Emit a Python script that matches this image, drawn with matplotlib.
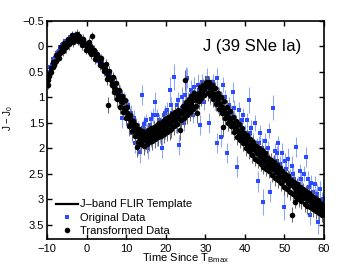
import matplotlib
matplotlib.use("Agg")
import matplotlib.pyplot as plt
from matplotlib.ticker import FixedLocator, FixedFormatter
from matplotlib.lines import Line2D

plt.rcParams['font.family'] = ['Liberation Sans', 'DejaVu Sans']
plt.rcParams['mathtext.fontset'] = 'custom'
plt.rcParams['mathtext.rm'] = 'Liberation Sans'
plt.rcParams['mathtext.it'] = 'Liberation Sans:italic'

# ---- template ----
tmpl_t = [-10, -9, -8, -7, -6, -5, -4, -3, -2, -1, 0, 1, 2, 3, 4, 5, 6, 7, 8, 9, 10,
          11, 12, 13, 14, 15, 16, 17, 18, 19, 20, 21, 22, 23, 24, 25, 26, 27, 28, 29,
          30, 31, 32, 33, 34, 35, 36, 37, 38, 39, 40, 41, 42, 43, 44, 45, 46, 47, 48,
          49, 50, 51, 52, 53, 54, 55, 56, 57, 58, 59, 60]
tmpl_j = [0.65, 0.48, 0.33, 0.18, 0.06, -0.05, -0.13, -0.17, -0.16, -0.10, -0.02, 0.06,
          0.15, 0.26, 0.38, 0.52, 0.66, 0.80, 0.95, 1.12, 1.28, 1.45, 1.60, 1.72, 1.78,
          1.78, 1.74, 1.70, 1.65, 1.60, 1.55, 1.49, 1.43, 1.37, 1.30, 1.23, 1.16, 1.08,
          1.00, 0.90, 0.83, 0.82, 0.90, 1.02, 1.14, 1.26, 1.38, 1.50, 1.62, 1.73, 1.84,
          1.92, 1.99, 2.07, 2.14, 2.22, 2.29, 2.37, 2.44, 2.52, 2.60, 2.66, 2.73, 2.80,
          2.86, 2.92, 2.98, 3.04, 3.09, 3.15, 3.20]

# ---- transformed data (black) ----
blk_t = [-9.8, -9.5, -9.0, -8.6, -8.2, -7.8, -7.3, -7.0, -6.6, -6.2, -5.8, -5.4, -5.0, -4.6,
         -4.3, -4.0, -3.6, -3.3, -3.0, -2.7, -2.4, -2.0, -1.7, -1.4, -1.0, -0.7, -0.4, 0.0,
         0.3, 0.7, 1.0, 1.4, 1.7, 2.0, 2.4, 2.8, 3.1, 3.5, 3.9, 4.2, 4.6, 5.0, 5.4, 5.5,
         5.8, 6.1, 6.5, 6.9, 7.2, 7.6, 8.0, 8.3, 8.7, 9.0, 9.4, 9.8, 10.1, 10.5, 10.9, 11.2,
         11.6, 12.0, 12.4, 12.7, 12.8, 13.1, 13.5, 13.9, 14.2, 14.6, 15.0, 15.3, 15.7, 16.0,
         16.4, 16.8, 17.1, 17.5, 17.9, 18.2, 18.6, 19.0, 19.3, 19.7, 20.1, 20.4, 20.8, 21.0,
         21.2, 21.5, 21.9, 22.3, 22.6, 23.0, 23.4, 23.6, 23.7, 24.1, 24.5, 24.8, 24.9, 25.2,
         25.6, 25.9, 26.3, 26.7, 27.0, 27.4, 27.8, 27.9, 28.1, 28.5, 28.9, 29.2, 29.6, 30.0,
         30.4, 30.7, 31.1, 31.5, 31.8, 32.2, 32.6, 33.0, 33.3, 33.7, 34.1, 34.5, 34.5, 34.8,
         35.2, 35.6, 36.0, 36.3, 36.7, 37.1, 37.5, 37.8, 38.2, 38.6, 39.0, 39.3, 39.7, 40.1,
         40.4, 40.8, 41.2, 41.6, 41.9, 42.3, 42.7, 43.0, 43.4, 43.8, 44.1, 44.5, 44.9, 45.2,
         45.6, 46.0, 46.3, 46.7, 47.1, 47.5, 47.8, 48.2, 48.6, 48.9, 49.3, 49.7, 50.0, 50.4,
         50.8, 51.2, 51.5, 51.9, 52.3, 52.6, 52.7, 53.0, 53.4, 53.7, 54.1, 54.5, 54.9, 55.2,
         55.6, 56.0, 56.3, 56.7, 57.1, 57.5, 57.8, 58.2, 58.6, 58.9, 59.3, 59.7]
blk_j = [0.75, 0.58, 0.50, 0.40, 0.36, 0.28, 0.20, 0.22, 0.12, 0.08, 0.03, -0.02, -0.04, -0.08,
         -0.12, -0.10, -0.16, -0.13, -0.20, -0.15, -0.18, -0.12, -0.14, -0.08, -0.12, -0.05,
         -0.04, 0.00, -0.02, 0.04, 0.02, -0.20, 0.10, 0.12, 0.18, 0.22, 0.24, 0.30, 0.36, 0.40,
         0.45, 0.50, 0.58, 1.15, 0.62, 0.65, 0.74, 0.80, 0.84, 0.92, 0.96, 1.02, 1.08, 1.10,
         1.20, 1.25, 1.30, 1.38, 1.42, 1.50, 1.55, 1.62, 1.66, 1.97, 1.72, 1.70, 1.80, 1.76,
         1.84, 1.78, 1.72, 1.82, 1.75, 1.70, 1.78, 1.66, 1.72, 1.64, 1.70, 1.60, 1.66, 1.56,
         1.62, 1.52, 1.58, 1.50, 1.46, 1.64, 1.52, 1.44, 1.40, 1.46, 1.38, 1.34, 1.40, 1.64,
         1.30, 1.26, 1.32, 1.22, 0.66, 1.18, 1.24, 1.14, 1.10, 1.16, 1.05, 1.02, 1.06, 1.30,
         0.95, 0.92, 0.88, 0.92, 0.84, 0.80, 0.75, 0.78, 0.82, 0.86, 0.92, 0.94, 1.00, 1.04,
         1.10, 1.12, 1.18, 1.20, 1.58, 1.26, 1.30, 1.34, 1.40, 1.44, 1.50, 1.52, 1.60, 1.58,
         1.66, 1.70, 1.68, 1.76, 1.82, 1.80, 1.90, 1.86, 1.96, 1.92, 2.02, 1.98, 2.06, 2.10,
         2.04, 2.16, 2.12, 2.20, 2.24, 2.16, 2.30, 2.26, 2.34, 2.30, 2.40, 2.36, 2.46, 2.40,
         2.52, 2.48, 2.56, 2.50, 2.62, 2.58, 2.68, 2.64, 2.72, 3.30, 2.76, 2.72, 3.05, 2.84,
         2.78, 2.90, 2.86, 2.94, 2.88, 2.98, 2.94, 3.02, 2.96, 3.06, 3.02, 3.10, 3.06, 3.16,
         3.10, 3.20, 3.14, 3.22]
blk_err = [0.08, 0.06, 0.10, 0.06, 0.08, 0.06, 0.10, 0.06, 0.08, 0.06, 0.10, 0.06, 0.08, 0.06,
           0.10, 0.06, 0.08, 0.06, 0.10, 0.06, 0.08, 0.06, 0.10, 0.06, 0.08, 0.06, 0.10, 0.06,
           0.08, 0.06, 0.10, 0.08, 0.08, 0.06, 0.10, 0.06, 0.08, 0.06, 0.10, 0.08, 0.08, 0.10,
           0.08, 0.15, 0.10, 0.08, 0.12, 0.10, 0.08, 0.12, 0.10, 0.15, 0.10, 0.12, 0.15, 0.10,
           0.15, 0.12, 0.10, 0.15, 0.12, 0.15, 0.10, 0.20, 0.15, 0.12, 0.15, 0.10, 0.15, 0.12,
           0.10, 0.15, 0.12, 0.10, 0.15, 0.12, 0.10, 0.15, 0.12, 0.10, 0.15, 0.12, 0.10, 0.15,
           0.12, 0.10, 0.15, 0.20, 0.12, 0.10, 0.15, 0.12, 0.10, 0.15, 0.12, 0.20, 0.10, 0.15,
           0.12, 0.10, 0.20, 0.15, 0.12, 0.10, 0.15, 0.12, 0.10, 0.15, 0.12, 0.20, 0.10, 0.15,
           0.12, 0.10, 0.15, 0.12, 0.15, 0.10, 0.12, 0.15, 0.10, 0.12, 0.15, 0.10, 0.12, 0.15,
           0.10, 0.12, 0.20, 0.15, 0.10, 0.12, 0.15, 0.10, 0.12, 0.15, 0.10, 0.12, 0.15, 0.10,
           0.12, 0.15, 0.10, 0.12, 0.15, 0.10, 0.12, 0.15, 0.10, 0.12, 0.15, 0.10, 0.12, 0.15,
           0.10, 0.12, 0.15, 0.10, 0.12, 0.15, 0.10, 0.12, 0.15, 0.10, 0.12, 0.15, 0.10, 0.12,
           0.15, 0.10, 0.12, 0.15, 0.10, 0.20, 0.12, 0.15, 0.15, 0.10, 0.12, 0.15, 0.10, 0.12,
           0.15, 0.10, 0.12, 0.15, 0.10, 0.12, 0.15, 0.10, 0.12, 0.15, 0.10, 0.12, 0.15, 0.10,
           0.12, 0.15]

# second batch of transformed points: (time, J - J0, error)
blk_more = [
    (-9.7, 0.66, 0.08), (-9.3, 0.52, 0.10), (-8.9, 0.42, 0.08), (-8.5, 0.30, 0.10),
    (-8.0, 0.30, 0.08), (-7.6, 0.16, 0.10), (-7.2, 0.14, 0.08), (-6.8, 0.10, 0.10),
    (-6.4, 0.02, 0.08), (-6.0, 0.08, 0.10), (-5.6, -0.06, 0.08), (-5.2, 0.02, 0.10),
    (-4.8, -0.14, 0.08), (-4.4, -0.04, 0.10), (-3.8, -0.22, 0.08), (-3.4, -0.08, 0.10),
    (-2.9, -0.12, 0.08), (-2.5, -0.24, 0.10), (-2.2, -0.10, 0.08), (-1.8, -0.20, 0.10),
    (-1.2, -0.02, 0.08), (-0.8, -0.14, 0.10), (-0.2, 0.06, 0.08), (0.5, -0.08, 0.10),
    (0.9, 0.10, 0.08), (1.2, 0.14, 0.10), (1.9, 0.06, 0.08), (2.2, 0.24, 0.10),
    (2.6, 0.14, 0.08), (3.3, 0.36, 0.10), (3.7, 0.22, 0.08), (4.4, 0.48, 0.10),
    (4.8, 0.34, 0.10), (5.2, 0.64, 0.12), (5.7, 0.48, 0.10), (6.3, 0.76, 0.12),
    (6.7, 0.60, 0.10), (7.0, 0.90, 0.15), (7.4, 0.72, 0.12), (7.8, 1.04, 0.15),
    (8.2, 0.86, 0.12), (8.5, 1.18, 0.15), (8.9, 0.98, 0.12), (9.2, 1.28, 0.15),
    (9.6, 1.06, 0.12), (10.0, 1.40, 0.15), (10.3, 1.18, 0.12), (10.7, 1.56, 0.18),
    (11.0, 1.34, 0.12), (11.4, 1.66, 0.18), (11.8, 1.46, 0.12), (12.2, 1.76, 0.18),
    (12.6, 1.54, 0.12), (13.0, 1.88, 0.18), (13.3, 1.62, 0.12), (13.7, 1.92, 0.18),
    (14.0, 1.66, 0.12), (14.4, 1.96, 0.18), (14.8, 1.68, 0.12), (15.2, 1.92, 0.18),
    (15.5, 1.64, 0.12), (15.9, 1.88, 0.18), (16.2, 1.60, 0.12), (16.6, 1.86, 0.18),
    (17.0, 1.58, 0.12), (17.3, 1.82, 0.18), (17.7, 1.54, 0.12), (18.0, 1.78, 0.18),
    (18.4, 1.50, 0.12), (18.8, 1.76, 0.18), (19.2, 1.46, 0.12), (19.5, 1.72, 0.18),
    (19.9, 1.42, 0.12), (20.2, 1.68, 0.18), (20.6, 1.38, 0.12), (21.4, 1.62, 0.18),
    (21.7, 1.32, 0.12), (22.1, 1.56, 0.18), (22.4, 1.28, 0.12), (22.8, 1.52, 0.18),
    (23.2, 1.24, 0.12), (23.9, 1.44, 0.18), (24.3, 1.16, 0.12), (24.7, 1.40, 0.18),
    (25.0, 1.10, 0.12), (25.4, 1.34, 0.18), (25.8, 1.04, 0.12), (26.1, 1.28, 0.18),
    (26.5, 0.98, 0.12), (26.9, 1.22, 0.18), (27.2, 0.92, 0.12), (27.6, 1.16, 0.18),
    (28.3, 1.08, 0.15), (28.7, 0.80, 0.12), (29.0, 1.02, 0.15), (29.4, 0.76, 0.12),
    (29.8, 0.96, 0.15), (30.2, 0.70, 0.12), (30.6, 0.92, 0.15), (30.9, 0.70, 0.12),
    (31.3, 0.96, 0.15), (31.7, 0.76, 0.12), (32.0, 1.04, 0.15), (32.4, 0.82, 0.12),
    (32.8, 1.12, 0.15), (33.2, 0.92, 0.12), (33.5, 1.22, 0.15), (33.9, 1.00, 0.12),
    (34.3, 1.30, 0.15), (34.7, 1.08, 0.12), (35.0, 1.40, 0.15), (35.4, 1.18, 0.12),
    (35.8, 1.50, 0.15), (36.2, 1.26, 0.12), (36.5, 1.56, 0.15), (36.9, 1.38, 0.12),
    (37.3, 1.68, 0.15), (37.7, 1.46, 0.12), (38.0, 1.78, 0.15), (38.4, 1.52, 0.12),
    (38.8, 1.84, 0.15), (39.2, 1.60, 0.12), (39.5, 1.90, 0.15), (39.9, 1.70, 0.12),
    (40.3, 2.00, 0.15), (40.6, 1.74, 0.12), (41.0, 2.06, 0.15), (41.4, 1.82, 0.12),
    (41.8, 2.14, 0.15), (42.1, 1.88, 0.12), (42.5, 2.20, 0.15), (42.9, 1.96, 0.12),
    (43.2, 2.24, 0.15), (43.6, 2.00, 0.12), (44.0, 2.30, 0.15), (44.3, 2.04, 0.12),
    (44.7, 2.36, 0.15), (45.1, 2.10, 0.12), (45.4, 2.40, 0.15), (45.8, 2.18, 0.12),
    (46.2, 2.44, 0.15), (46.5, 2.22, 0.12), (46.9, 2.52, 0.15), (47.3, 2.26, 0.12),
    (47.7, 2.58, 0.15), (48.0, 2.32, 0.12), (48.4, 2.62, 0.15), (48.8, 2.38, 0.12),
    (49.1, 2.68, 0.15), (49.5, 2.44, 0.12), (49.9, 2.76, 0.15), (50.2, 2.50, 0.12),
    (50.6, 2.80, 0.15), (51.0, 2.54, 0.12), (51.4, 2.86, 0.15), (51.7, 2.62, 0.12),
    (52.1, 2.90, 0.15), (52.5, 2.66, 0.12), (52.9, 2.96, 0.15), (53.2, 2.70, 0.12),
    (53.6, 3.00, 0.15), (54.0, 2.76, 0.12), (54.3, 3.04, 0.15), (54.7, 2.80, 0.12),
    (55.1, 3.10, 0.15), (55.4, 2.84, 0.12), (55.8, 3.14, 0.15), (56.2, 2.88, 0.12),
    (56.5, 3.16, 0.15), (56.9, 2.94, 0.12), (57.3, 3.20, 0.15), (57.7, 2.98, 0.12),
    (58.0, 3.24, 0.15), (58.4, 3.02, 0.12), (58.8, 3.26, 0.15), (59.1, 3.08, 0.12),
    (59.5, 3.30, 0.15), (59.9, 3.12, 0.12),
]

# ---- original data (blue) ----
blu_t = [-9.9, -9.6, -9.2, -8.8, -8.4, -8.0, -7.5, -7.1, -6.7, -6.3, -5.9, -5.4, -5.0, -4.5,
         -4.1, -3.7, -3.2, -2.8, -2.3, -1.9, -1.5, -1.0, -0.6, -0.2, 0.3, 0.8, 1.2, 1.6, 2.1,
         2.5, 3.0, 3.4, 3.8, 4.3, 4.7, 5.2, 5.6, 6.0, 6.4, 6.9, 7.3, 7.7, 8.1, 8.6, 9.0, 9.3,
         9.8, 10.2, 10.6, 11.0, 11.4, 11.8, 12.2, 12.6, 13.0, 13.5, 13.9, 14.3, 14.7, 15.1,
         15.5, 16.0, 16.4, 16.9, 17.3, 17.7, 18.2, 18.6, 19.0, 19.5, 19.9, 20.3, 20.8, 21.2,
         21.6, 22.0, 22.5, 22.9, 23.3, 23.7, 24.2, 24.6, 25.0, 25.4, 25.9, 26.3, 26.8, 27.2,
         27.6, 28.1, 28.7, 29.1, 29.6, 30.0, 30.5, 31.0, 31.4, 31.9, 32.4, 33.0, 33.0, 33.5,
         34.0, 34.5, 35.0, 35.5, 36.0, 36.5, 37.0, 37.5, 38.0, 38.5, 39.0, 39.5, 40.0, 40.5,
         41.0, 41.5, 42.0, 42.5, 43.0, 43.3, 43.8, 44.3, 44.6, 45.0, 45.5, 46.0, 46.4, 47.0,
         47.5, 48.0, 48.5, 49.0, 49.5, 50.0, 50.5, 51.0, 51.5, 52.0, 52.5, 53.0, 53.5, 54.0,
         54.5, 55.0, 55.5, 56.0, 56.5, 56.8, 57.3, 57.8, 58.2, 58.5, 59.0, 59.4, 59.8]
blu_j = [0.62, 0.55, 0.40, 0.36, 0.25, 0.22, 0.12, 0.10, 0.02, -0.02, -0.04, -0.10, -0.08,
         -0.14, -0.18, -0.14, -0.22, -0.18, -0.20, -0.15, -0.12, -0.08, -0.10, 0.00, 0.03, 0.08,
         0.06, 0.15, 0.16, 0.24, 0.28, 0.36, 0.33, 0.42, 0.50, 0.55, 0.52, 0.62, 0.70, 0.72,
         0.90, 0.85, 1.05, 0.95, 1.40, 1.10, 1.30, 1.20, 1.55, 1.35, 1.70, 1.45, 1.90, 1.55,
         1.95, 2.07, 0.95, 1.60, 1.90, 1.45, 2.00, 1.55, 1.85, 1.35, 1.09, 1.80, 1.45, 1.75,
         1.99, 1.35, 1.70, 1.25, 1.60, 0.85, 1.30, 0.60, 1.55, 1.15, 1.93, 1.35, 1.00, 1.50,
         0.66, 0.62, 1.10, 0.85, 1.35, 0.80, 1.20, 0.75, 1.54, 0.70, 1.10, 0.75, 0.62, 1.50,
         0.80, 0.70, 1.10, 0.62, 1.90, 0.95, 1.77, 0.75, 1.00, 2.09, 1.15, 1.30, 0.90, 1.45,
         2.36, 1.25, 1.55, 1.35, 1.70, 1.45, 1.05, 1.60, 1.85, 1.50, 1.95, 2.65, 1.70, 2.00,
         3.05, 1.85, 2.10, 1.65, 2.85, 1.20, 2.05, 2.25, 1.90, 2.30, 2.10, 3.15, 2.40, 2.20,
         2.55, 2.35, 2.60, 1.97, 2.70, 2.45, 2.75, 2.50, 2.17, 2.60, 3.30, 2.68, 2.85, 2.70,
         2.90, 3.44, 2.80, 3.05, 3.00]
blu_err = [0.08, 0.06, 0.05, 0.08, 0.06, 0.05, 0.06, 0.05, 0.08, 0.06, 0.05, 0.06, 0.10,
           0.06, 0.08, 0.05, 0.06, 0.10, 0.06, 0.08, 0.06, 0.05, 0.08, 0.06, 0.05, 0.06, 0.08,
           0.06, 0.05, 0.08, 0.06, 0.10, 0.06, 0.08, 0.06, 0.10, 0.08, 0.12, 0.10, 0.08, 0.15,
           0.10, 0.15, 0.12, 0.20, 0.10, 0.15, 0.12, 0.20, 0.15, 0.18, 0.12, 0.20, 0.15, 0.18,
           0.22, 0.20, 0.15, 0.15, 0.12, 0.20, 0.15, 0.12, 0.15, 0.20, 0.15, 0.12, 0.15, 0.20,
           0.15, 0.12, 0.15, 0.12, 0.25, 0.15, 0.25, 0.15, 0.15, 0.20, 0.15, 0.20, 0.15, 0.25,
           0.20, 0.15, 0.20, 0.15, 0.20, 0.15, 0.20, 0.20, 0.15, 0.15, 0.15, 0.20, 0.20, 0.15,
           0.15, 0.15, 0.20, 0.20, 0.15, 0.20, 0.15, 0.15, 0.20, 0.15, 0.15, 0.20, 0.15, 0.20,
           0.15, 0.15, 0.15, 0.15, 0.15, 0.25, 0.15, 0.15, 0.15, 0.15, 0.20, 0.15, 0.20, 0.25,
           0.15, 0.15, 0.15, 0.20, 0.25, 0.15, 0.20, 0.15, 0.15, 0.20, 0.25, 0.15, 0.20, 0.15,
           0.20, 0.15, 0.20, 0.15, 0.15, 0.15, 0.15, 0.20, 0.15, 0.20, 0.15, 0.15, 0.15, 0.20,
           0.25, 0.15, 0.20, 0.15]

# second batch of original points: (time, J - J0, error)
blu_more = [
    (-9.4, 0.50, 0.06), (-8.6, 0.30, 0.06), (-7.8, 0.20, 0.05), (-6.9, 0.08, 0.06),
    (-6.0, -0.02, 0.05), (-4.8, -0.12, 0.06), (-3.5, -0.20, 0.06), (-2.5, -0.14, 0.05),
    (-1.2, -0.14, 0.06), (0.0, -0.06, 0.06), (1.0, 0.00, 0.05), (2.3, 0.10, 0.06),
    (3.2, 0.20, 0.06), (4.0, 0.30, 0.06), (5.0, 0.42, 0.08), (5.9, 0.55, 0.08),
    (6.7, 0.64, 0.10), (7.5, 0.74, 0.10), (8.4, 0.88, 0.12), (9.5, 1.02, 0.12),
    (10.4, 1.15, 0.12), (11.2, 1.30, 0.15), (12.0, 1.40, 0.15), (12.9, 1.62, 0.15),
    (13.7, 1.70, 0.15), (14.5, 1.52, 0.15), (15.3, 1.68, 0.15), (16.2, 1.42, 0.15),
    (17.0, 1.60, 0.15), (17.9, 1.35, 0.12), (18.8, 1.50, 0.12), (19.7, 1.30, 0.15),
    (20.6, 1.40, 0.15), (21.4, 1.15, 0.15), (22.3, 1.30, 0.15), (23.1, 1.05, 0.15),
    (24.0, 1.20, 0.15), (24.8, 0.95, 0.15), (25.7, 1.05, 0.15), (26.6, 0.90, 0.15),
    (27.5, 0.98, 0.15), (28.4, 0.85, 0.15), (29.3, 0.80, 0.15), (30.2, 0.88, 0.12),
    (31.2, 1.00, 0.15), (32.1, 0.92, 0.15), (33.2, 1.15, 0.15), (34.2, 1.05, 0.15),
    (35.2, 1.25, 0.15), (36.2, 1.45, 0.15), (37.2, 1.20, 0.15), (38.2, 1.60, 0.15),
    (39.2, 1.45, 0.15), (40.2, 1.85, 0.15), (41.2, 1.70, 0.15), (42.2, 2.05, 0.15),
    (43.5, 1.90, 0.15), (44.8, 2.20, 0.15), (45.8, 2.00, 0.15), (47.2, 2.30, 0.15),
    (48.2, 2.10, 0.15), (49.2, 2.50, 0.15), (50.2, 2.25, 0.15), (51.2, 2.70, 0.15),
    (52.2, 2.50, 0.15), (53.2, 2.85, 0.15), (54.2, 2.60, 0.15), (55.2, 2.95, 0.15),
    (56.2, 2.75, 0.15), (57.2, 3.05, 0.15), (58.0, 2.95, 0.15), (59.2, 3.20, 0.15),
]

xticks = [-10, 0, 10, 20, 30, 40, 50, 60]
xtick_labels = ['\u221210', '0', '10', '20', '30', '40', '50', '60']
yticks = [-0.5, 0, 0.5, 1, 1.5, 2, 2.5, 3, 3.5]
ytick_labels = ['\u22120.5', '0', '0.5', '1', '1.5', '2', '2.5', '3', '3.5']

BLUE = '#2a4bff'
BLUE_ERR = '#8fa4ff'
GRAY_ERR = '#6a6a6a'

bt = blk_t + [p[0] for p in blk_more]
bj = blk_j + [p[1] for p in blk_more]
be = blk_err + [p[2] for p in blk_more]
ut = blu_t + [p[0] for p in blu_more]
uj = blu_j + [p[1] for p in blu_more]
ue = blu_err + [p[2] for p in blu_more]

fig = plt.figure(figsize=(3.59, 2.70), dpi=100)
ax = fig.add_axes([47/359, 1-239/270, 277/359, 218/270])

ax.errorbar(ut, uj, yerr=ue, fmt='s', color=BLUE, ecolor=BLUE_ERR,
            markersize=3.1, markeredgewidth=0, elinewidth=0.75, capsize=1.4,
            capthick=0.75, zorder=2)
ax.plot(tmpl_t, tmpl_j, color='black', lw=1.6, zorder=3)
ax.errorbar(bt, bj, yerr=be, fmt='o', color='black', ecolor=GRAY_ERR,
            markersize=4.0, markeredgewidth=0, elinewidth=0.75, capsize=1.4,
            capthick=0.75, zorder=4)

ax.set_xlim(-10, 60)
ax.set_ylim(3.78, -0.5)
ax.xaxis.set_major_locator(FixedLocator(xticks))
ax.xaxis.set_major_formatter(FixedFormatter(xtick_labels))
ax.yaxis.set_major_locator(FixedLocator(yticks))
ax.yaxis.set_major_formatter(FixedFormatter(ytick_labels))
ax.tick_params(direction='in', top=True, right=True, length=3.5, width=1.0,
               labelsize=8, colors='black')
ax.tick_params(axis='x', pad=3.5)
ax.tick_params(axis='y', pad=2)
for s in ax.spines.values():
    s.set_linewidth(1.2)

ax.set_xlabel('Time Since T$_{\\mathrm{Bmax}}$', fontsize=8)
ax.xaxis.set_label_coords(0.5, -0.055)
ax.set_ylabel('J \u2212 J$_{0}$', fontsize=7)
ax.yaxis.set_label_coords(-0.115, 0.555)

ax.text(0.74, 0.885, 'J (39 SNe Ia)', transform=ax.transAxes, fontsize=12,
        ha='center', va='center')

handles = [Line2D([], [], color='black', lw=1.6),
           Line2D([], [], marker='s', color=BLUE, ls='none', markersize=3.1, markeredgewidth=0),
           Line2D([], [], marker='o', color='black', ls='none', markersize=4.0, markeredgewidth=0)]
labels = ['J\u2013band FLIR Template', 'Original Data', 'Transformed Data']
ax.legend(handles, labels, loc='lower left', bbox_to_anchor=(0.02, 0.0),
          frameon=False, fontsize=8, handlelength=2.0, handletextpad=0.2,
          labelspacing=0.28, borderaxespad=0.1, borderpad=0.2)

fig.savefig('out.png', dpi=100)
